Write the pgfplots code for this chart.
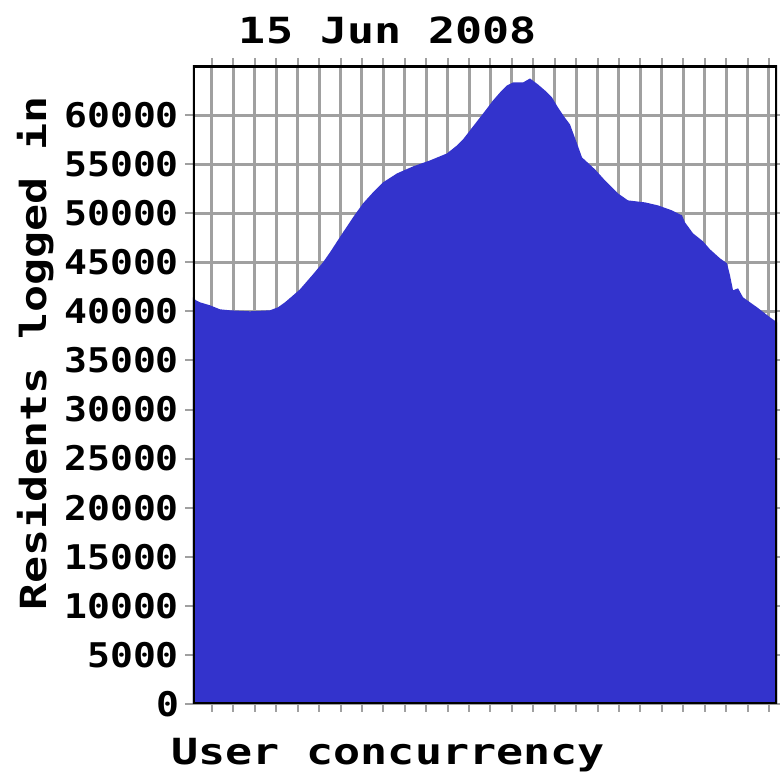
\documentclass[border=0pt]{standalone}
\usepackage{fontspec}
\setmainfont{DejaVu Sans Mono}[FakeStretch=1.25,BoldFeatures={FakeStretch=1.25}]
\newfontfamily\tickfont{DejaVu Sans Mono}[FakeStretch=1.12,BoldFeatures={FakeStretch=1.12}]
\usepackage{pgfplots}
\pgfplotsset{compat=1.18}
\definecolor{fillblue}{RGB}{51,51,204}
\definecolor{gridgray}{RGB}{160,160,160}
\begin{document}
\begin{tikzpicture}
\begin{axis}[
  name=plot,
  scale only axis,
  width=292pt, height=319pt,
  xmin=-0.887, xmax=26.377,
  ymin=0, ymax=65000,
  xtick={0,...,26},
  xticklabels={},
  ytick={0,5000,...,60000},
  scaled y ticks=false,
  /pgf/number format/set thousands separator={},
  /pgf/number format/assume math mode=true,
  yticklabel style={font=\tickfont\fontsize{17pt}{19pt}\selectfont\bfseries, anchor=east, xshift=0.5pt},
  grid=major,
  major grid style={gridgray, line width=1.5pt},
  tick style={gridgray, line width=1pt},
  tick align=outside,
  major tick length=4pt,
  axis line style={draw=none},
  clip=true,
]
\addplot[fill=fillblue, draw=none] table {
x y
-0.887 41433
-0.747 41127
-0.560 40924
-0.093 40618
0.373 40211
0.840 40109
1.774 40007
2.708 40109
3.081 40415
3.408 40924
3.735 41534
4.108 42247
4.715 43774
5.182 44996
5.509 46014
6.116 48050
6.583 49577
7.050 51002
7.516 52122
7.983 53140
8.637 54056
9.384 54768
10.177 55379
10.971 56092
11.438 56906
11.718 57517
12.185 58840
12.512 59757
12.839 60673
13.119 61487
13.445 62302
13.772 63014
14.052 63320
14.519 63320
14.846 63727
15.219 63116
15.546 62505
15.873 61793
16.153 60775
16.433 59858
16.713 59044
17.040 57110
17.274 55685
17.881 54463
18.347 53343
18.954 52020
19.421 51307
20.215 51104
20.822 50798
21.475 50289
21.942 49780
22.082 49068
22.456 47948
22.923 47133
23.249 46319
23.716 45403
24.043 44894
24.183 43672
24.323 42145
24.557 42349
24.790 41433
25.444 40415
26.050 39397
26.377 38888
} \closedcycle;
\draw[black, line width=1.6pt] (rel axis cs:0,0) rectangle (rel axis cs:1,1);
\end{axis}
\node[anchor=base, font=\fontsize{18pt}{20pt}\selectfont\bfseries] at ([xshift=97.5pt, yshift=11pt]plot.north west) {15 Jun 2008};
\node[anchor=base, font=\fontsize{18pt}{20pt}\selectfont\bfseries] at ([xshift=97.5pt, yshift=-30.5pt]plot.south west) {User concurrency};
\node[anchor=base, rotate=90, font=\fontsize{18pt}{20pt}\selectfont\bfseries] at ([xshift=-73pt, yshift=175.25pt]plot.south west) {Residents logged in};
\pgfresetboundingbox
\path ([xshift=-96.5pt, yshift=-38pt]plot.south west) rectangle ([xshift=1.5pt, yshift=33pt]plot.north east);
\end{tikzpicture}
\end{document}
